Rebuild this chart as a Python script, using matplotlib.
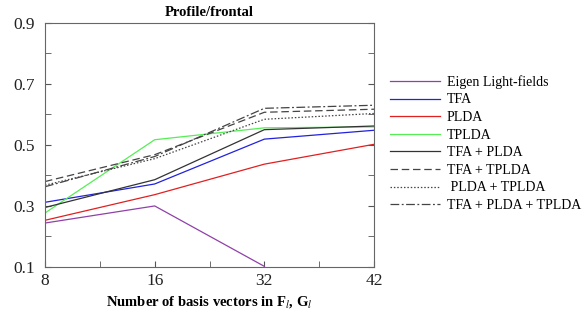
import numpy as np
import matplotlib.pyplot as plt
from matplotlib.ticker import MultipleLocator

plt.rcParams['font.family'] = 'Liberation Serif'
plt.rcParams['mathtext.fontset'] = 'stix'

x_labels = ["8", "16", "32", "42"]
eigen = [0.244, 0.300, 0.102, np.nan]
tfa = [0.312, 0.372, 0.519, 0.548]
plda = [0.253, 0.337, 0.437, 0.502]
tplda = [0.277, 0.517, 0.556, 0.559]
tfa_plda = [0.295, 0.386, 0.550, 0.562]
tfa_tplda = [0.380, 0.468, 0.607, 0.617]
plda_tplda = [0.368, 0.455, 0.584, 0.603]
all_three = [0.363, 0.462, 0.620, 0.630]

x = np.arange(len(x_labels))

fig = plt.figure(figsize=(5.87, 3.09), dpi=100)
ax = fig.add_axes([0.0767, 0.136, 0.5605, 0.790])

lw = 0.9
ax.plot(x, eigen, color="#9040a8", lw=lw, label="Eigen Light-fields")
ax.plot(x, tfa, color="#2222dd", lw=lw, label="TFA")
ax.plot(x, plda, color="#e02020", lw=lw, label="PLDA")
ax.plot(x, tplda, color="#55ee55", lw=lw, label="TPLDA")
ax.plot(x, tfa_plda, color="#333333", lw=lw, label="TFA + PLDA")
ax.plot(x, tfa_tplda, color="#444444", lw=lw, dashes=(6, 3), label="TFA + TPLDA")
ax.plot(x, plda_tplda, color="#444444", lw=lw, dashes=(1.2, 1.5), label=" PLDA + TPLDA")
ax.plot(x, all_three, color="#444444", lw=lw, dashes=(7, 2, 1.5, 2), label="TFA + PLDA + TPLDA")

ax.set_xlim(0, 3)
ax.set_ylim(0.1, 0.9)
ax.set_xticks(x)
ax.set_xticklabels(x_labels)
ax.xaxis.set_minor_locator(MultipleLocator(0.5))
ax.set_yticks([0.1, 0.3, 0.5, 0.7, 0.9])
ax.yaxis.set_minor_locator(MultipleLocator(0.1))
ax.tick_params(which="both", direction="in", left=True, right=True, top=False,
               labelsize=12.5, colors="#555555", labelcolor="#222222")
ax.tick_params(axis="y", pad=7)
ax.tick_params(axis="x", pad=4)
ax.tick_params(which="both", length=4)
for s in ax.spines.values():
    s.set_color("#666666")
    s.set_linewidth(0.8)

ax.set_title("Profile/frontal", fontsize=10.5, fontweight="bold", pad=5)
ax.set_xlabel(r"Number of basis vectors in F$_l$, G$_l$", fontsize=10.5,
              fontweight="bold", va="center")
ax.xaxis.set_label_coords(0.5, -0.143)

fig.legend(loc="upper left", bbox_to_anchor=(0.655, 0.775), frameon=False,
           fontsize=10, handlelength=3.6, handletextpad=0.5, labelspacing=0.33,
           borderaxespad=0)

fig.savefig("out.png", dpi=100)
